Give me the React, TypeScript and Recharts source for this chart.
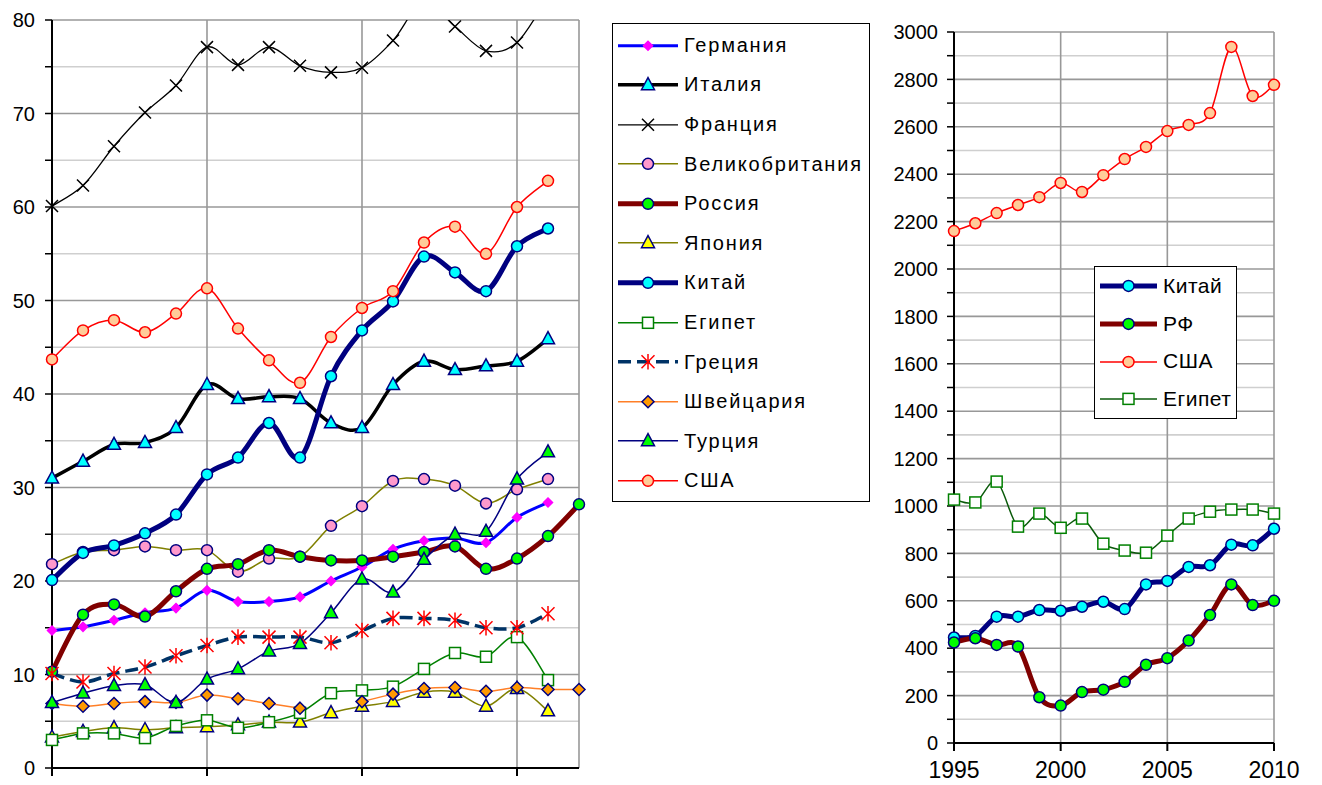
import { LineChart, Line, XAxis, YAxis, ReferenceLine } from 'recharts'

// left chart: 1995..2012
const YEARS = [1995, 1996, 1997, 1998, 1999, 2000, 2001, 2002, 2003, 2004, 2005, 2006, 2007, 2008, 2009, 2010, 2011, 2012]

const GERMANY = [14.7, 15.1, 15.8, 16.6, 17.1, 19.0, 17.8, 17.8, 18.3, 20.0, 21.5, 23.4, 24.3, 24.6, 24.1, 26.8, 28.4, null]
const ITALY = [31.0, 32.8, 34.6, 34.8, 36.4, 41.0, 39.5, 39.7, 39.5, 36.9, 36.4, 41.0, 43.5, 42.6, 43.0, 43.5, 45.9, null]
const FRANCE = [60.1, 62.3, 66.5, 70.1, 73.0, 77.1, 75.2, 77.1, 75.1, 74.4, 74.9, 77.8, 82.0, 79.3, 76.7, 77.6, 82.5, null]
const UK = [21.8, 23.1, 23.3, 23.7, 23.3, 23.3, 21.0, 22.4, 22.6, 25.9, 28.0, 30.7, 30.9, 30.2, 28.3, 29.8, 30.9, null]
const RUSSIA = [10.3, 16.4, 17.5, 16.2, 18.9, 21.3, 21.8, 23.3, 22.6, 22.2, 22.2, 22.6, 23.1, 23.7, 21.3, 22.4, 24.8, 28.2]
const JAPAN = [3.3, 3.9, 4.3, 4.1, 4.3, 4.4, 4.6, 4.9, 4.9, 5.9, 6.6, 7.1, 8.1, 8.1, 6.6, 8.5, 6.1, null]
const CHINA = [20.1, 23.0, 23.8, 25.1, 27.1, 31.4, 33.2, 36.9, 33.2, 41.9, 46.8, 49.9, 54.7, 53.0, 51.0, 55.8, 57.7, null]
const EGYPT = [3.0, 3.7, 3.7, 3.2, 4.5, 5.1, 4.3, 4.9, 5.9, 8.0, 8.3, 8.7, 10.6, 12.3, 11.9, 14.0, 9.4, null]
const GREECE = [10.1, 9.2, 10.1, 10.8, 12.0, 13.1, 14.0, 14.0, 14.0, 13.4, 14.7, 16.0, 16.0, 15.8, 15.0, 15.0, 16.5, null]
const SWISS = [6.9, 6.6, 6.9, 7.1, 7.0, 7.8, 7.4, 6.9, 6.4, null, 7.1, 7.9, 8.5, 8.6, 8.2, 8.6, 8.4, 8.4]
const TURKEY = [7.0, 8.0, 8.8, 8.9, 7.0, 9.5, 10.6, 12.5, 13.3, 16.6, 20.2, 18.8, 22.3, 25.0, 25.3, 30.9, 33.8, null]
const USA = [43.7, 46.8, 47.9, 46.6, 48.6, 51.3, 47.0, 43.6, 41.2, 46.1, 49.2, 51.0, 56.2, 57.9, 55.0, 60.0, 62.8, null]

const LEFT_X_TICKS = [1995, 2000, 2005, 2010]
const LEFT_Y_TICKS = [0, 5, 10, 15, 20, 25, 30, 35, 40, 45, 50, 55, 60, 65, 70, 75, 80]

// right chart: 1995..2010
const R_YEARS = [1995, 1996, 1997, 1998, 1999, 2000, 2001, 2002, 2003, 2004, 2005, 2006, 2007, 2008, 2009, 2010]
const R_CHINA = [445, 452, 533, 533, 561, 558, 575, 596, 565, 669, 684, 743, 750, 837, 834, 904]
const R_RF = [424, 442, 414, 407, 193, 158, 215, 225, 258, 330, 358, 432, 540, 669, 582, 600]
const R_USA = [2160, 2193, 2236, 2270, 2303, 2363, 2325, 2396, 2464, 2515, 2582, 2608, 2658, 2937, 2730, 2777]
const R_EGYPT = [1027, 1015, 1103, 913, 968, 908, 947, 841, 812, 803, 875, 947, 976, 985, 985, 968]

const R_X_TICKS = [1995, 2000, 2005, 2010]
const R_Y_TICKS = Array.from({ length: 31 }, (_, i) => i * 100)

const FONT = '"Liberation Sans", Arial, sans-serif'

type Marker = 'circle' | 'triangle' | 'diamond' | 'square' | 'cross' | 'star'

interface Series {
  key: string
  name: string
  values: (number | null)[]
  color: string
  width: number
  dash?: string
  marker: Marker
  fill: string
  edge: string
  size: number
}

const LEFT_SERIES: Series[] = [
  { key: 'de', name: 'Германия', values: GERMANY, color: '#0000ff', width: 3, marker: 'diamond', fill: '#ff00ff', edge: '#ff00ff', size: 4.5 },
  { key: 'it', name: 'Италия', values: ITALY, color: '#000000', width: 3.5, marker: 'triangle', fill: '#00ffff', edge: '#000080', size: 6.5 },
  { key: 'fr', name: 'Франция', values: FRANCE, color: '#000000', width: 1.3, marker: 'cross', fill: 'none', edge: '#000000', size: 6 },
  { key: 'uk', name: 'Великобритания', values: UK, color: '#808000', width: 1.5, marker: 'circle', fill: '#ff99cc', edge: '#000080', size: 5.5 },
  { key: 'ru', name: 'Россия', values: RUSSIA, color: '#800000', width: 5, marker: 'circle', fill: '#00ff00', edge: '#000080', size: 5.5 },
  { key: 'jp', name: 'Япония', values: JAPAN, color: '#808000', width: 1.5, marker: 'triangle', fill: '#ffff00', edge: '#000080', size: 6.5 },
  { key: 'cn', name: 'Китай', values: CHINA, color: '#000080', width: 5, marker: 'circle', fill: '#00ffff', edge: '#000080', size: 5.5 },
  { key: 'eg', name: 'Египет', values: EGYPT, color: '#008000', width: 1.5, marker: 'square', fill: '#ffffff', edge: '#008000', size: 5.5 },
  { key: 'gr', name: 'Греция', values: GREECE, color: '#003366', width: 3.5, dash: '13 6', marker: 'star', fill: 'none', edge: '#ff0000', size: 6.5 },
  { key: 'ch', name: 'Швейцария', values: SWISS, color: '#ff7f27', width: 1.5, marker: 'diamond', fill: '#ff9900', edge: '#000080', size: 6 },
  { key: 'tr', name: 'Турция', values: TURKEY, color: '#000080', width: 1.5, marker: 'triangle', fill: '#00ff00', edge: '#000080', size: 6.5 },
  { key: 'us', name: 'США', values: USA, color: '#ff0000', width: 1.5, marker: 'circle', fill: '#ffcc99', edge: '#ff0000', size: 5.5 },
]

const RIGHT_SERIES: Series[] = [
  { key: 'cn', name: 'Китай', values: R_CHINA, color: '#000080', width: 5, marker: 'circle', fill: '#00ffff', edge: '#000080', size: 5.5 },
  { key: 'ru', name: 'РФ', values: R_RF, color: '#800000', width: 5, marker: 'circle', fill: '#00ff00', edge: '#000080', size: 5.5 },
  { key: 'us', name: 'США', values: R_USA, color: '#ff0000', width: 1.5, marker: 'circle', fill: '#ffcc99', edge: '#ff0000', size: 5.5 },
  { key: 'eg', name: 'Египет', values: R_EGYPT, color: '#0a5a0a', width: 1.5, marker: 'square', fill: '#ffffff', edge: '#008000', size: 5.5 },
]

const leftData = YEARS.map((year, i) => {
  const row: Record<string, number | null> = { year }
  LEFT_SERIES.forEach((s) => { row[s.key] = s.values[i] })
  return row
})

const rightData = R_YEARS.map((year, i) => {
  const row: Record<string, number | null> = { year }
  RIGHT_SERIES.forEach((s) => { row[s.key] = s.values[i] })
  return row
})

// Excel-like smoothing (Catmull-Rom through the points)
const excelSmooth = (context: any) => {
  let pts: number[][] = []
  return {
    areaStart() {},
    areaEnd() {},
    lineStart() { pts = [] },
    point(x: number, y: number) { pts.push([+x, +y]) },
    lineEnd() {
      if (!pts.length) return
      context.moveTo(pts[0][0], pts[0][1])
      for (let i = 1; i < pts.length; i++) {
        const p0 = pts[Math.max(i - 2, 0)]
        const p1 = pts[i - 1]
        const p2 = pts[i]
        const p3 = pts[Math.min(i + 1, pts.length - 1)]
        context.bezierCurveTo(
          p1[0] + (p2[0] - p0[0]) / 6, p1[1] + (p2[1] - p0[1]) / 6,
          p2[0] - (p3[0] - p1[0]) / 6, p2[1] - (p3[1] - p1[1]) / 6,
          p2[0], p2[1],
        )
      }
    },
  }
}

function drawMarker(s: Series, cx: number, cy: number, key?: string) {
  const r = s.size
  switch (s.marker) {
    case 'circle':
      return <circle key={key} cx={cx} cy={cy} r={r} fill={s.fill} stroke={s.edge} strokeWidth={1.5} />
    case 'triangle':
      return (
        <polygon key={key} fill={s.fill} stroke={s.edge} strokeWidth={1.5} strokeLinejoin="miter"
          points={`${cx},${cy - r * 1.1} ${cx - r},${cy + r * 0.75} ${cx + r},${cy + r * 0.75}`} />
      )
    case 'diamond':
      return (
        <polygon key={key} fill={s.fill} stroke={s.edge} strokeWidth={1.5}
          points={`${cx},${cy - r} ${cx + r},${cy} ${cx},${cy + r} ${cx - r},${cy}`} />
      )
    case 'square':
      return <rect key={key} x={cx - r} y={cy - r} width={r * 2} height={r * 2} fill={s.fill} stroke={s.edge} strokeWidth={1.5} />
    case 'cross':
      return (
        <path key={key} fill="none" stroke={s.edge} strokeWidth={1.5}
          d={`M${cx - r},${cy - r}L${cx + r},${cy + r}M${cx + r},${cy - r}L${cx - r},${cy + r}`} />
      )
    default:
      return (
        <path key={key} fill="none" stroke={s.edge} strokeWidth={1.5}
          d={`M${cx - r},${cy - r}L${cx + r},${cy + r}M${cx + r},${cy - r}L${cx - r},${cy + r}M${cx},${cy - r * 1.2}L${cx},${cy + r * 1.2}`} />
      )
  }
}

const dotFor = (s: Series) => (props: any) => {
  const key = `${s.key}-${props.index}`
  if (props.cx == null || props.cy == null || props.value == null) return <g key={key} />
  return drawMarker(s, props.cx, props.cy, key)
}

function LegendBox({ items, left, top, width, rowHeight, fontSize, sample, spacing, padTop }: {
  items: Series[]; left: number; top: number; width: number; rowHeight: number; fontSize: number
  sample: number; spacing: number; padTop: number
}) {
  return (
    <div style={{
      position: 'absolute', left, top, width, border: '1.5px solid #000', background: '#fff',
      boxSizing: 'border-box', fontFamily: FONT, paddingTop: padTop,
    }}>
      {items.map((s) => (
        <div key={s.key} style={{ display: 'flex', alignItems: 'center', height: rowHeight }}>
          <svg width={sample + 8} height={rowHeight} style={{ flexShrink: 0 }}>
            <line x1={5} x2={sample + 5} y1={rowHeight / 2} y2={rowHeight / 2}
              stroke={s.color} strokeWidth={s.width} strokeDasharray={s.dash} />
            {drawMarker(s, 5 + sample / 2, rowHeight / 2)}
          </svg>
          <span style={{ fontSize, color: '#000', marginLeft: 3, whiteSpace: 'nowrap', letterSpacing: spacing }}>{s.name}</span>
        </div>
      ))}
    </div>
  )
}

const tickStyle = { fill: '#000', fontSize: 20, fontFamily: FONT }

export default function App() {
  return (
    <div style={{ position: 'absolute', left: 0, top: 0, width: 1322, height: 785, background: '#fff', fontFamily: FONT }}>
      <div style={{ position: 'absolute', left: 0, top: 0 }}>
        <LineChart width={600} height={785} data={leftData} margin={{ top: 20, right: 21, bottom: 0, left: 0 }}>
          {LEFT_Y_TICKS.filter((v) => v > 0).map((v) => (
            <ReferenceLine key={`gy${v}`} y={v} stroke={v % 10 === 0 ? '#989898' : '#cfcfcf'} strokeWidth={1.6} />
          ))}
          {[2000, 2005, 2010, 2012].map((v) => (
            <ReferenceLine key={`gx${v}`} x={v} stroke="#989898" strokeWidth={1.6} />
          ))}
          <XAxis dataKey="year" type="number" domain={[1995, 2012]} ticks={LEFT_X_TICKS} interval={0}
            tickFormatter={() => ''} height={17} tickSize={8}
            axisLine={{ stroke: '#000', strokeWidth: 2 }} tickLine={{ stroke: '#000', strokeWidth: 2 }} />
          <YAxis type="number" domain={[0, 80]} ticks={LEFT_Y_TICKS} interval={0} allowDataOverflow width={52}
            tickFormatter={(v: number) => (v % 10 === 0 ? String(v) : '')} tick={tickStyle} tickSize={7} tickMargin={10}
            axisLine={{ stroke: '#000', strokeWidth: 2 }} tickLine={{ stroke: '#000', strokeWidth: 1.5 }} />
          {LEFT_SERIES.map((s) => (
            <Line key={s.key} dataKey={s.key} type={excelSmooth as any} stroke={s.color} strokeWidth={s.width}
              strokeDasharray={s.dash} dot={dotFor(s)} activeDot={false} isAnimationActive={false} />
          ))}
        </LineChart>
      </div>

      <LegendBox items={LEFT_SERIES} left={612} top={23} width={258} rowHeight={39.6} fontSize={20}
        sample={60} spacing={1.8} padTop={1.5} />

      <div style={{ position: 'absolute', left: 880, top: 0 }}>
        <LineChart width={442} height={785} data={rightData} margin={{ top: 32, right: 48, bottom: 0, left: 0 }}>
          {R_Y_TICKS.filter((v) => v > 0).map((v) => (
            <ReferenceLine key={`gy${v}`} y={v} stroke={v % 200 === 0 ? '#989898' : '#cfcfcf'} strokeWidth={1.6} />
          ))}
          {[2000, 2005, 2010].map((v) => (
            <ReferenceLine key={`gx${v}`} x={v} stroke="#989898" strokeWidth={1.6} />
          ))}
          <XAxis dataKey="year" type="number" domain={[1995, 2010]} ticks={R_X_TICKS} interval={0}
            height={42} tickSize={8} tickMargin={11} tick={{ ...tickStyle, fontSize: 23 }}
            axisLine={{ stroke: '#000', strokeWidth: 2 }} tickLine={{ stroke: '#000', strokeWidth: 2 }} />
          <YAxis type="number" domain={[0, 3000]} ticks={R_Y_TICKS} interval={0} width={74}
            tickFormatter={(v: number) => (v % 200 === 0 ? String(v) : '')} tick={tickStyle} tickSize={7} tickMargin={9}
            axisLine={{ stroke: '#000', strokeWidth: 2 }} tickLine={{ stroke: '#000', strokeWidth: 1.5 }} />
          {RIGHT_SERIES.map((s) => (
            <Line key={s.key} dataKey={s.key} type={excelSmooth as any} stroke={s.color} strokeWidth={s.width}
              dot={dotFor(s)} activeDot={false} isAnimationActive={false} />
          ))}
        </LineChart>
      </div>

      <LegendBox items={RIGHT_SERIES} left={1094} top={266} width={143} rowHeight={37.75} fontSize={21}
        sample={57} spacing={0.5} padTop={0} />
    </div>
  )
}
